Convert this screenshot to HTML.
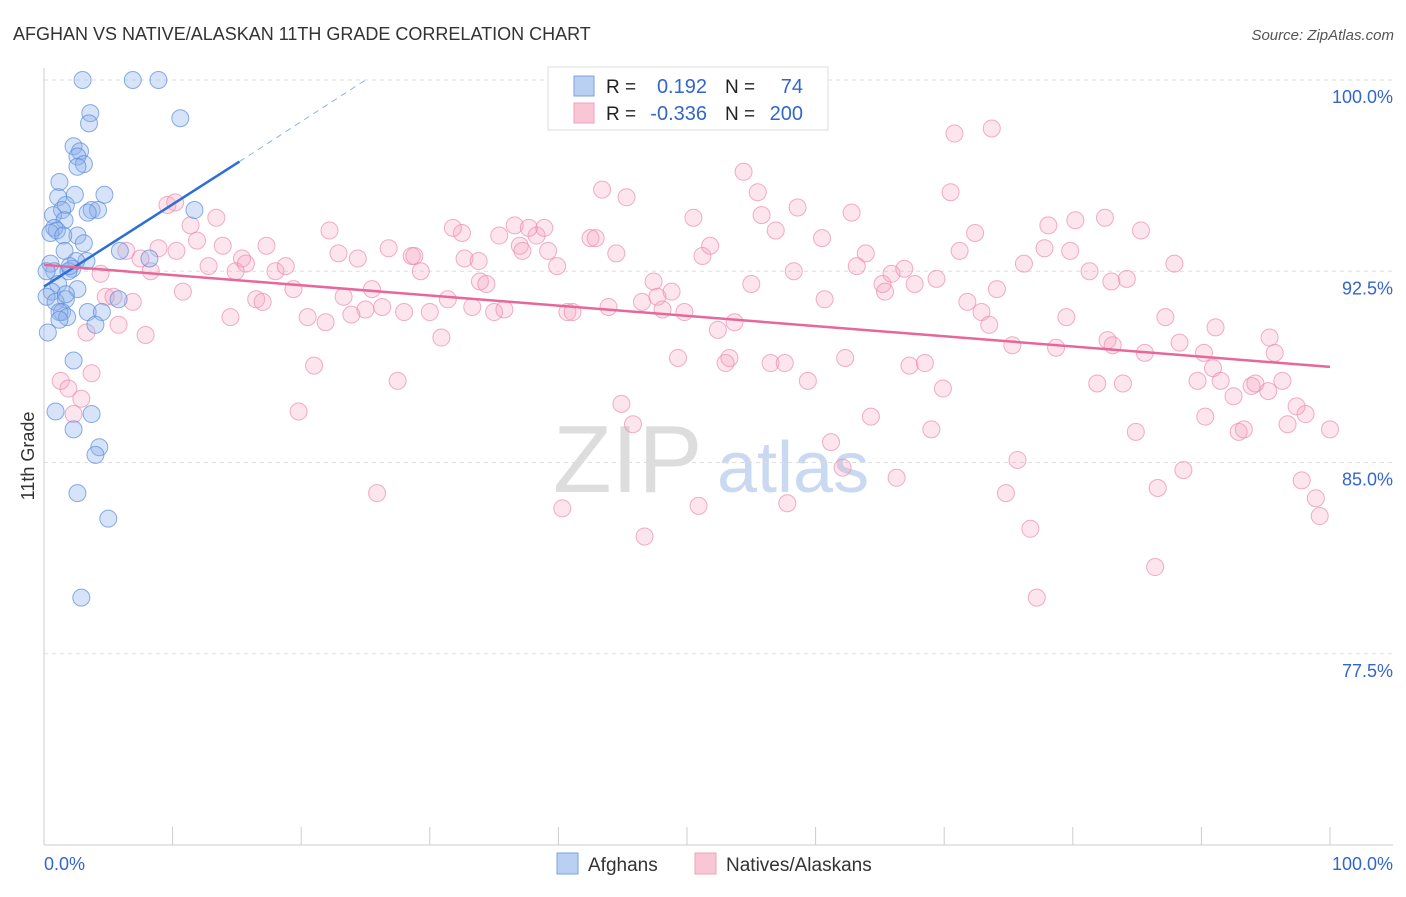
<!DOCTYPE html>
<html><head><meta charset="utf-8"><style>
body{margin:0;background:#fff;font-family:"Liberation Sans",sans-serif;}
svg text{font-family:"Liberation Sans",sans-serif;}
</style></head><body>
<svg id="chart" width="1406" height="892">
<text x="13" y="40" font-size="18" fill="#333">AFGHAN VS NATIVE/ALASKAN 11TH GRADE CORRELATION CHART</text>
<text x="1394" y="40" font-size="15" fill="#555" font-style="italic" text-anchor="end">Source: ZipAtlas.com</text>
<text x="34" y="456" font-size="18" fill="#333" transform="rotate(-90 34 456)" text-anchor="middle">11th Grade</text>
<g>
<text x="553" y="492" font-size="96" fill="#ddd" font-family="Liberation Serif">ZIP</text>
<text x="717" y="492" font-size="72" fill="#c9d9f2">atlas</text>
</g>
<g id="grid"></g><g id="axes"></g><g id="pink"></g><g id="blue"></g><g id="lines"></g>
<g>
<rect x="548" y="67" width="280" height="63" fill="#fff" stroke="#ddd"/>
<rect x="574" y="76" width="20" height="20" fill="#b9d0f3" stroke="#7aa0e0"/>
<rect x="574" y="103" width="20" height="20" fill="#f9c6d6" stroke="#f0a0bc"/>
<text x="606" y="93" font-size="19" fill="#222">R =</text>
<text x="707" y="93" font-size="20" fill="#3366cc" text-anchor="end">0.192</text>
<text x="725" y="93" font-size="19" fill="#222">N =</text>
<text x="803" y="93" font-size="20" fill="#3366cc" text-anchor="end">74</text>
<text x="606" y="120" font-size="19" fill="#222">R =</text>
<text x="707" y="120" font-size="20" fill="#3366cc" text-anchor="end">-0.336</text>
<text x="725" y="120" font-size="19" fill="#222">N =</text>
<text x="803" y="120" font-size="20" fill="#3366cc" text-anchor="end">200</text>
</g>
<g>
<rect x="557" y="853" width="21" height="21" fill="#b9d0f3" stroke="#7aa0e0"/>
<text x="588" y="871" font-size="19" fill="#333">Afghans</text>
<text x="726" y="871" font-size="19" fill="#333">Natives/Alaskans</text>
<rect x="695" y="853" width="21" height="21" fill="#f9c6d6" stroke="#f0a0bc"/>
</g>
</svg>
<script>
const yTicks=[100,92.5,85,77.5];
const yTickLabels=["100.0%","92.5%","85.0%","77.5%"];
const xTickLabels=["0.0%","100.0%"];
const blueX=[3.0,6.9,8.9,3.6,3.5,10.6,2.3,2.8,2.6,3.1,2.6,1.2,2.4,4.7,1.1,1.7,1.4,3.7,4.2,11.7,3.4,0.7,1.6,0.8,1.0,0.5,2.6,1.5,3.1,5.9,1.6,8.2,3.3,2.5,0.5,2.2,1.9,0.8,0.2,1.1,2.6,0.6,0.2,1.7,0.9,3.4,4.5,1.4,1.2,1.8,1.2,4.0,0.3,2.3,0.9,3.7,2.3,4.3,4.0,2.6,5.0,2.9,5.8,2.0,1.7];
const blueY=[100,100,100,98.7,98.3,98.5,97.4,97.2,97.0,96.7,96.6,96.0,95.5,95.5,95.4,95.1,94.9,94.9,94.9,94.9,94.8,94.7,94.5,94.2,94.1,94.0,93.9,93.9,93.6,93.3,93.3,93.0,92.9,92.9,92.8,92.6,92.5,92.5,92.5,92.0,91.8,91.7,91.5,91.4,91.3,90.9,90.9,90.9,90.9,90.7,90.6,90.4,90.1,89.0,87.0,86.9,86.3,85.6,85.3,83.8,82.8,79.7,91.4,92.7,91.6];
const pinkX=[60.1,70.8,73.7,54.4,43.4,45.3,55.5,70.5,9.6,10.2,13.4,58.6,62.8,50.5,55.8,78.1,80.2,82.5,11.4,22.2,32.5,31.8,35.4,36.6,38.3,38.9,37.7,42.5,42.9,56.9,60.5,72.4,85.3,8.9,6.4,10.3,11.9,13.9,17.3,22.9,24.4,26.8,28.6,28.8,32.7,33.8,37.0,37.2,39.2,39.9,44.5,51.2,51.8,63.9,71.2,77.8,79.8,7.5,8.3,12.8,14.9,15.4,15.7,18.0,18.8,29.3,33.9,34.4,47.4,47.7,48.8,58.3,63.2,65.2,65.4,65.9,66.9,67.7,69.4,76.2,81.3,84.2,83.0,87.9,4.4,10.8,14.5,16.5,17.0,19.4,20.5,21.9,23.3,23.9,25.0,25.5,26.3,28.0,30.0,31.4,33.3,35.0,35.8,40.7,41.1,43.9,46.5,48.1,49.8,52.4,53.7,55.0,60.7,71.8,72.9,73.5,74.1,79.5,87.2,91.1,4.8,5.4,6.9,5.8,7.9,21.0,30.9,49.3,53.0,53.3,56.5,57.6,59.4,62.3,67.3,68.5,69.9,75.3,78.7,82.7,83.1,85.6,88.3,89.7,90.2,90.9,91.5,92.5,93.9,94.2,95.2,96.3,95.3,95.7,1.3,1.9,2.9,3.7,2.3,3.3,27.5,81.9,83.9,19.8,44.9,45.8,61.2,64.3,69.0,75.7,84.9,90.3,92.9,93.3,96.7,97.4,98.1,100.0,62.1,66.3,88.6,86.6,74.8,25.9,40.3,50.9,57.8,97.8,98.9,99.2,76.7,46.7,86.4,77.2];
const pinkY=[98.8,97.9,98.1,96.4,95.7,95.4,95.6,95.6,95.1,95.2,94.6,95.0,94.8,94.6,94.7,94.3,94.5,94.6,94.3,94.1,94.0,94.2,93.9,94.3,93.9,94.2,94.2,93.8,93.8,94.1,93.8,94.0,94.1,93.4,93.3,93.3,93.7,93.5,93.5,93.2,93.0,93.4,93.1,93.1,93.0,92.9,93.5,93.3,93.3,92.7,93.2,93.1,93.5,93.2,93.3,93.4,93.3,93.0,92.5,92.7,92.5,93.0,92.8,92.5,92.7,92.5,92.1,92.0,92.1,91.5,91.7,92.5,92.7,92.0,91.7,92.4,92.6,92.0,92.2,92.8,92.5,92.2,92.1,92.8,92.4,91.7,90.7,91.4,91.3,91.8,90.7,90.5,91.5,90.8,91.0,91.8,91.1,90.9,90.9,91.4,91.1,90.9,91.0,90.9,90.9,91.1,91.3,91.0,90.9,90.2,90.5,92.0,91.4,91.3,90.9,90.4,91.8,90.7,90.7,90.3,91.5,91.5,91.3,90.4,90.0,88.8,89.9,89.1,88.9,89.1,88.9,88.9,88.2,89.1,88.8,88.9,87.9,89.6,89.5,89.8,89.6,89.3,89.7,88.2,89.3,88.7,88.2,87.6,88.0,88.1,87.8,88.2,89.9,89.3,88.2,87.9,87.5,88.5,86.9,90.1,88.2,88.1,88.1,87.0,87.3,86.5,85.8,86.8,86.3,85.1,86.2,86.8,86.2,86.3,86.5,87.2,86.9,86.3,84.8,84.4,84.7,84.0,83.8,83.8,83.2,83.3,83.4,84.3,83.6,82.9,82.4,82.1,80.9,79.7];
const blueTrendX=[0,15.2,25];
const blueTrendY=[91.9,96.8,100];
const pinkTrendX=[0,100];
const pinkTrendY=[92.75,88.75];

const X0=44,X1=1330,Y100=80,PXPER=25.5;
const sx=v=>X0+(X1-X0)*v/100;
const sy=v=>Y100+(100-v)*PXPER;
const NS="http://www.w3.org/2000/svg";
function mk(tag,attrs,parent){const e=document.createElementNS(NS,tag);for(const k in attrs)e.setAttribute(k,attrs[k]);parent.appendChild(e);return e;}
const grid=document.getElementById('grid'),axes=document.getElementById('axes');
yTicks.forEach((t,i)=>{
  const l=mk('line',{x1:44,x2:1393,y1:sy(t),y2:sy(t),stroke:'#ddd','stroke-dasharray':'4,4'},grid);
  
  
  const tx=mk('text',{x:1393,y:sy(t)+23,'font-size':18,fill:'#3366cc','text-anchor':'end'},axes);
  tx.textContent=yTickLabels[i];
  
  
});
let ax=mk('line',{x1:44,x2:44,y1:68,y2:845,stroke:'#ccc'},axes);


ax=mk('line',{x1:44,x2:1393,y1:845,y2:845,stroke:'#ccc'},axes);


for(let i=0;i<=10;i++){
  const t=mk('line',{x1:sx(i*10),x2:sx(i*10),y1:827,y2:845,stroke:'#ccc'},axes);
  
  
}
[[0,'start',44],[100,'end',1393]].forEach((p,i)=>{
  const tx=mk('text',{x:p[2],y:870,'font-size':18,fill:'#3366cc','text-anchor':p[1]},axes);
  tx.textContent=xTickLabels[i];
  
  
});
const pg=document.getElementById('pink');
pinkX.forEach((v,i)=>{
  const c=mk('circle',{cx:sx(v),cy:sy(pinkY[i]),r:8.5,fill:'rgba(244,160,190,0.28)',stroke:'rgba(236,140,175,0.7)','stroke-width':1},pg);
  
  
});
const bg=document.getElementById('blue');
blueX.forEach((v,i)=>{
  const c=mk('circle',{cx:sx(v),cy:sy(blueY[i]),r:8.5,fill:'rgba(140,175,235,0.35)',stroke:'rgba(90,140,220,0.7)','stroke-width':1},bg);
  
  
});
const lg=document.getElementById('lines');
let l=mk('line',{x1:sx(blueTrendX[0]),y1:sy(blueTrendY[0]),x2:sx(blueTrendX[1]),y2:sy(blueTrendY[1]),stroke:'#2d6fd6','stroke-width':2.5},lg);


l=mk('line',{x1:sx(blueTrendX[1]),y1:sy(blueTrendY[1]),x2:sx(blueTrendX[2]),y2:sy(blueTrendY[2]),stroke:'#8fb0e6','stroke-width':1,'stroke-dasharray':'6,5'},lg);


l=mk('line',{x1:sx(pinkTrendX[0]),y1:sy(pinkTrendY[0]),x2:sx(pinkTrendX[1]),y2:sy(pinkTrendY[1]),stroke:'#e8679a','stroke-width':2.5},lg);


</script>
</body></html>
